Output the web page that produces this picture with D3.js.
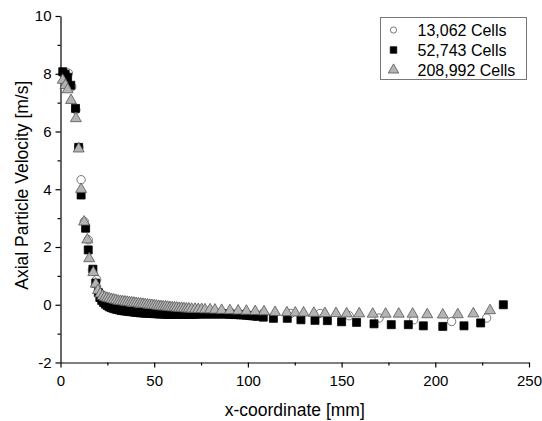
<!DOCTYPE html>
<html>
<head>
    <meta charset="utf-8">
    <title>Axial Particle Velocity</title>
    <script src="https://d3js.org/d3.v7.min.js"></script>
    <style>
        body { margin: 0; background: #fff; }
        text { font-family: "Liberation Sans", Arial, sans-serif; fill: #000; }
        .axis path, .axis line { stroke: #000; stroke-width: 1.2; }
        .axis text { font-size: 15px; }
        .axis-label { font-size: 17.5px; }
        .legend text { font-size: 16px; }
    </style>
</head>
<body>
    <div id="chart"></div>

    <script>
        // 数据：三种网格的结果
        const seriesNames = ["13,062 Cells", "52,743 Cells", "208,992 Cells"];

        const circleX = [1.5, 4.2, 6.0, 8.2, 9.8, 11.0, 12.7, 14.8, 17.0, 19.3, 21.3,
            23.5, 27, 31, 35, 40, 45, 50, 56, 62, 68, 75, 83, 91, 99,
            108, 123, 138.5, 154, 170, 188.5, 208.7, 227.4];
        const circleY = [8.0, 8.02, 7.55, 6.75, 5.45, 4.33, 2.88, 2.25, 1.2, 0.87, 0.4,
            0.15, 0.0, -0.1, -0.15, -0.2, -0.22, -0.25, -0.26, -0.27, -0.27, -0.27, -0.27, -0.28, -0.29,
            -0.3, -0.3, -0.3, -0.38, -0.46, -0.52, -0.58, -0.46];

        const squareX = [1.2, 2.5, 3.8, 5.5, 8.0, 9.7, 11.0, 13.4, 14.8, 17.3, 18.8, 20.2,
            21, 22, 23, 24, 25, 26, 27, 28, 29, 30, 31.3, 32.5, 33.8, 35, 36.3, 37.5, 38.8,
            40, 41.3, 42.5, 43.8, 45, 46.3, 47.5, 48.8, 50, 51.3, 52.5, 53.8, 55, 56.3, 57.5,
            58.8, 60, 61.5, 63, 64.5, 66, 67.5, 69, 70.5, 72, 73.5, 75, 76.5, 78, 79.5, 81,
            82.5, 84, 85.5, 87, 88.5, 90, 91.5, 93, 94.5, 96, 97.5, 99, 100.5, 102, 103.5, 105,
            108.2, 113.6, 121, 128.3, 135.8, 142.4, 150, 158, 167.3, 176.5, 185.6, 193.6,
            204, 215.3, 224.2, 236.3];
        const squareY = [8.07, 7.98, 7.88, 7.6, 6.8, 5.45, 3.8, 2.65, 1.9, 1.23, 0.75, 0.42,
            0.25, 0.15, 0.08, 0.02, -0.03, -0.07, -0.1, -0.12, -0.14, -0.16, -0.18, -0.2, -0.21, -0.22, -0.23, -0.24, -0.25,
            -0.26, -0.27, -0.28, -0.28, -0.29, -0.29, -0.3, -0.3, -0.31, -0.31, -0.32, -0.32, -0.32, -0.33, -0.33,
            -0.33, -0.33, -0.33, -0.33, -0.33, -0.33, -0.33, -0.33, -0.33, -0.33, -0.32, -0.32, -0.32, -0.32, -0.32, -0.32,
            -0.32, -0.32, -0.32, -0.32, -0.32, -0.33, -0.33, -0.34, -0.34, -0.35, -0.35, -0.36, -0.37, -0.38, -0.39, -0.4,
            -0.43, -0.47, -0.47, -0.52, -0.54, -0.55, -0.59, -0.61, -0.66, -0.69, -0.69, -0.73,
            -0.75, -0.73, -0.63, 0.0];

        const triX = [1.2, 2.6, 3.8, 5.6, 8.2, 9.7, 11.0, 12.6, 14.3, 15.3, 17.5, 18.8, 20, 21.2, 22.4,
            23.6, 24.8, 26.0, 27.2, 28.4, 29.6, 30.8, 32.0, 33.2, 34.4, 35.6, 36.8, 38.0, 39.2,
            40.4, 41.6, 42.8, 44.0, 45.2, 46.4, 47.6, 48.8, 50.0, 51.2, 52.4, 53.6, 54.8, 56.0,
            57.2, 58.4, 59.6, 60.8, 62.0, 63.3, 64.6, 65.9, 67.2, 68.5, 70.0, 71.8, 73.5, 75.3,
            77.1, 79.8, 82.4, 86.0, 90.4, 94.8, 99.2, 103.9, 108.6, 114.5, 120.8, 125.3, 129.7,
            135.2, 141.1, 147, 152.7, 159.4, 166.6, 173.5, 180.5, 187.9, 195.7, 204, 212, 220.3, 229.2];
        const triY = [7.78, 7.6, 7.45, 7.08, 6.45, 5.4, 4.0, 2.87, 2.25, 1.6, 1.12, 0.72, 0.5, 0.38, 0.3,
            0.26, 0.23, 0.21, 0.19, 0.17, 0.15, 0.13, 0.12, 0.11, 0.1, 0.09, 0.08, 0.07, 0.06,
            0.05, 0.04, 0.03, 0.02, 0.01, 0.0, -0.01, -0.02, -0.03, -0.04, -0.05, -0.06, -0.07, -0.07,
            -0.08, -0.09, -0.1, -0.1, -0.11, -0.12, -0.12, -0.13, -0.14, -0.14, -0.15, -0.15, -0.16, -0.16,
            -0.17, -0.17, -0.18, -0.19, -0.2, -0.21, -0.22, -0.23, -0.24, -0.26, -0.27, -0.28, -0.28,
            -0.29, -0.3, -0.3, -0.31, -0.31, -0.32, -0.32, -0.32, -0.32, -0.34, -0.35, -0.34, -0.31, -0.2];

        const xMajor = [0, 50, 100, 150, 200, 250];
        const xMinor = [25, 75, 125, 175, 225];
        const yMajor = [-2, 0, 2, 4, 6, 8, 10];
        const yMinor = [-1, 1, 3, 5, 7, 9];

        // 尺寸
        const margin = {top: 16, right: 13, bottom: 58.5, left: 60.5};
        const width = 542 - margin.left - margin.right;
        const height = 421 - margin.top - margin.bottom;

        const svg = d3.select("#chart")
            .append("svg")
            .attr("width", 542)
            .attr("height", 421)
            .append("g")
            .attr("transform", `translate(${margin.left},${margin.top})`);

        const x = d3.scaleLinear().domain([0, 250]).range([0, width]);
        const y = d3.scaleLinear().domain([-2, 10]).range([height, 0]);

        // 坐标轴（负号用普通连字符）
        const plain = d => String(d);

        svg.append("g")
            .attr("class", "axis")
            .attr("transform", `translate(0,${height})`)
            .call(d3.axisBottom(x).tickValues(xMinor).tickSize(3).tickFormat(""))
            .select(".domain").remove();
        svg.append("g")
            .attr("class", "axis")
            .attr("transform", `translate(0,${height})`)
            .call(d3.axisBottom(x).tickValues(xMajor).tickFormat(plain).tickSize(5).tickSizeOuter(0).tickPadding(8));

        svg.append("g")
            .attr("class", "axis")
            .call(d3.axisLeft(y).tickValues(yMinor).tickSize(3).tickFormat(""))
            .select(".domain").remove();
        svg.append("g")
            .attr("class", "axis")
            .call(d3.axisLeft(y).tickValues(yMajor).tickFormat(plain).tickSize(5).tickSizeOuter(0).tickPadding(4));

        // 轴标题
        svg.append("text")
            .attr("class", "axis-label")
            .attr("x", width / 2)
            .attr("y", height + 53)
            .style("text-anchor", "middle")
            .text("x-coordinate [mm]");

        svg.append("text")
            .attr("class", "axis-label")
            .attr("transform", "rotate(-90)")
            .attr("x", -height / 2 + 4)
            .attr("y", -33)
            .style("text-anchor", "middle")
            .text("Axial Particle Velocity [m/s]");

        // 符号
        const styles = [
            {type: d3.symbolCircle, size: 55, fill: "#fff", stroke: "#555"},
            {type: d3.symbolSquare, size: 64, fill: "#000", stroke: "#000"},
            {type: d3.symbolTriangle, size: 52, fill: "#b4b4b4", stroke: "#555"}
        ];
        const seriesX = [circleX, squareX, triX];
        const seriesY = [circleY, squareY, triY];

        seriesX.forEach((xs, i) => {
            const pts = xs.map((v, j) => ({x: v, y: seriesY[i][j]}));
            svg.append("g")
                .selectAll("path")
                .data(pts)
                .enter()
                .append("path")
                .attr("d", d3.symbol().type(styles[i].type).size(styles[i].size))
                .attr("transform", d => `translate(${x(d.x)},${y(d.y)})`)
                .attr("fill", styles[i].fill)
                .attr("stroke", styles[i].stroke)
                .attr("stroke-width", 0.8);
        });

        // 图例
        const legend = svg.append("g")
            .attr("class", "legend")
            .attr("transform", `translate(${380.5 - margin.left},${17.5 - margin.top})`);
        legend.append("rect")
            .attr("width", 146)
            .attr("height", 62)
            .attr("fill", "#fff")
            .attr("stroke", "#777")
            .attr("stroke-width", 1);
        const legendSizes = [30, 42, 48];
        seriesNames.forEach((name, i) => {
            const ly = 12.5 + i * 20;
            legend.append("path")
                .attr("d", d3.symbol().type(styles[i].type).size(legendSizes[i]))
                .attr("transform", `translate(13,${ly})`)
                .attr("fill", styles[i].fill)
                .attr("stroke", styles[i].stroke)
                .attr("stroke-width", 0.8);
            legend.append("text")
                .attr("x", 37)
                .attr("y", ly)
                .attr("dy", "0.35em")
                .text(name);
        });
    </script>
</body>
</html>
